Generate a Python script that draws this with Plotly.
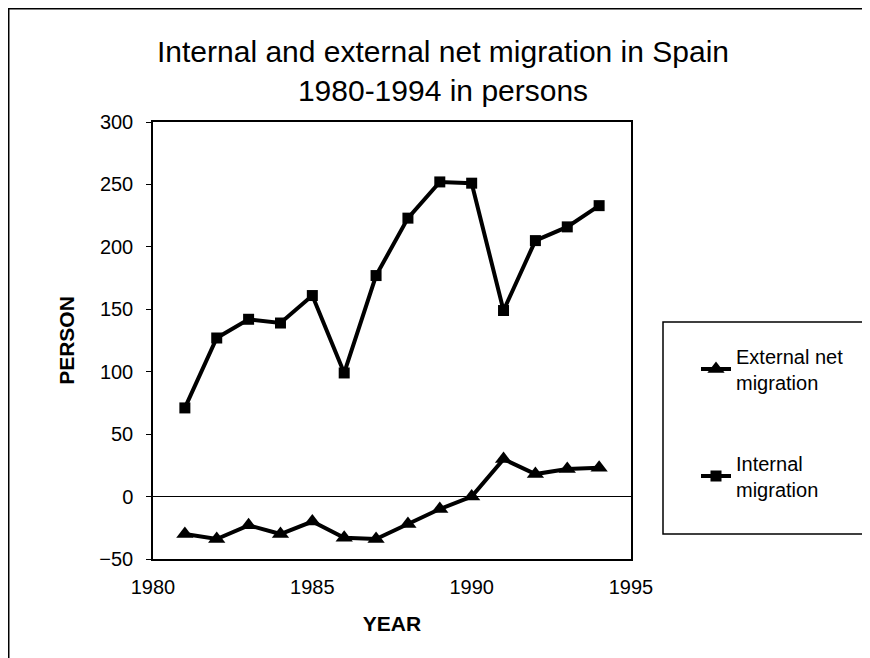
import plotly.graph_objects as go

# values (persons, thousands)
years = [1981, 1982, 1983, 1984, 1985, 1986, 1987, 1988, 1989, 1990, 1991, 1992, 1993, 1994]
external_net = [-30, -34, -23, -30, -20, -33, -34, -22, -10, 0, 30, 18, 22, 23]
internal = [71, 127, 142, 139, 161, 99, 177, 223, 252, 251, 149, 205, 216, 233]

x_ticks = [1980, 1985, 1990, 1995]
y_ticks = [-50, 0, 50, 100, 150, 200, 250, 300]
x_range = [1980, 1995]
y_range = [-50, 300]

FONT = 'Liberation Sans, Arial, sans-serif'
zero_pos = (0 - y_range[0]) / (y_range[1] - y_range[0])

# plot area in figure pixels (page is offset 8px by the body margin)
L, R, T, B = 145, 623, 114, 551
W, H = 870, 658


def px_x(x):
    return (x - L) / (R - L)


def px_y(y):
    return (B - y) / (B - T)


fig = go.Figure()
fig.add_trace(go.Scatter(
    x=years, y=external_net, name='External net<br>migration',
    mode='lines+markers', legend='legend',
    line=dict(color='black', width=4),
    marker=dict(symbol='triangle-up', size=15, color='black'),
))
fig.add_trace(go.Scatter(
    x=years, y=internal, name='Internal<br>migration',
    mode='lines+markers', legend='legend2',
    line=dict(color='black', width=4),
    marker=dict(symbol='square', size=11, color='black'),
))

legend_style = dict(
    xanchor='left', yanchor='middle', bgcolor='rgba(0,0,0,0)',
    borderwidth=0, font=dict(family=FONT, size=20, color='black'),
)

fig.update_layout(
    width=W, height=H,
    margin=dict(l=L, r=W - R, t=T, b=H - B),
    paper_bgcolor='white', plot_bgcolor='white',
    font=dict(family=FONT, color='black'),
    title=dict(
        text='Internal and external net migration in Spain<br>1980-1994 in persons',
        x=0.5, xanchor='center', xref='container',
        y=0.918, yanchor='top', yref='container',
        font=dict(family=FONT, size=30, color='black'),
    ),
    xaxis=dict(
        range=x_range, tickvals=x_ticks, ticks='', showgrid=False,
        zeroline=False, showline=True, linecolor='black', linewidth=1.5,
        mirror=True, ticklabelstandoff=9,
        tickfont=dict(size=20),
        title=dict(text='<b>YEAR</b>', font=dict(size=21), standoff=20),
    ),
    yaxis=dict(
        range=y_range, tickvals=y_ticks, ticks='outside', ticklen=5,
        tickcolor='black', showgrid=False, zeroline=True,
        zerolinecolor='black', zerolinewidth=1, showline=True,
        linecolor='black', linewidth=1.5, mirror=True,
        ticklabelstandoff=9, tickfont=dict(size=20),
        title=dict(text='<b>PERSON</b>', font=dict(size=21), standoff=19),
    ),
    yaxis2=dict(
        range=y_range, tickvals=y_ticks, overlaying='y', side='left',
        anchor='x', ticks='inside', ticklen=4, tickcolor='black',
        showticklabels=False, showgrid=False, zeroline=False,
    ),
    xaxis2=dict(
        range=x_range, tickvals=x_ticks[1:3], overlaying='x',
        anchor='free', position=zero_pos, ticks='outside', ticklen=5,
        tickcolor='black', showticklabels=False, showgrid=False,
        zeroline=False,
    ),
    xaxis3=dict(
        range=x_range, tickvals=x_ticks[1:3], overlaying='x',
        anchor='free', position=zero_pos, ticks='inside', ticklen=5,
        tickcolor='black', showticklabels=False, showgrid=False,
        zeroline=False,
    ),
    legend=dict(x=px_x(688), y=px_y(361), **legend_style),
    legend2=dict(x=px_x(688), y=px_y(468), **legend_style),
    showlegend=True,
)

# legend frame and page frame
fig.add_shape(type='rect', xref='paper', yref='paper',
              x0=px_x(655), x1=px_x(860), y0=px_y(526), y1=px_y(314),
              line=dict(color='black', width=1.5))
fig.add_shape(type='path', xref='paper', yref='paper',
              path='M {:.4f},{:.4f} L {:.4f},{:.4f} L {:.4f},{:.4f}'.format(
                  px_x(0.75), px_y(H), px_x(0.75), px_y(0.75),
                  px_x(W), px_y(0.75)),
              line=dict(color='black', width=1.5))

fig.write_html('out.html')
